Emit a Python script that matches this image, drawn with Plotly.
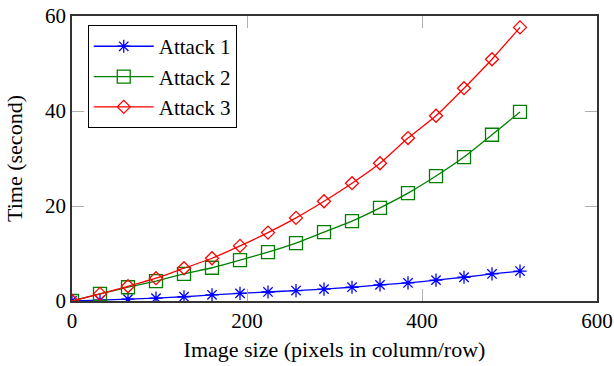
import plotly.graph_objects as go

sizes = [0, 32, 64, 96, 128, 160, 192, 224, 256, 288, 320, 352, 384, 416, 448, 480, 512]
attack1 = [0, 0.2, 0.4, 0.6, 0.9, 1.3, 1.6, 1.9, 2.2, 2.5, 2.9, 3.4, 3.8, 4.4, 5.0, 5.7, 6.3]
attack2 = [0, 1.5, 2.9, 4.2, 5.7, 7.0, 8.6, 10.3, 12.2, 14.5, 16.8, 19.6, 22.7, 26.3, 30.3, 35.0, 39.8]
attack3 = [0, 1.5, 3.1, 4.8, 6.9, 9.0, 11.6, 14.4, 17.5, 21.0, 24.8, 29.0, 34.3, 39.0, 44.8, 50.9, 57.6]
names = ["Attack 1", "Attack 2", "Attack 3"]
xticks = [0, 200, 400, 600]
yticks = [0, 20, 40, 60]

FONT = "Liberation Serif"
fig = go.Figure()
specs = [
    (attack1, "#0000ff", "asterisk-open", 11),
    (attack2, "#008000", "square-open", 13),
    (attack3, "#ff0000", "diamond-open", 10),
]
for name, (ys, col, sym, sz) in zip(names, specs):
    fig.add_trace(go.Scatter(
        x=sizes, y=ys, name=name, legendgroup=name, mode="lines+markers",
        line=dict(color=col, width=1.3, shape="spline", smoothing=0.5),
        marker=dict(symbol=sym, size=sz, color=col, line=dict(color=col, width=1.3)),
    ))

axis_common = dict(
    showline=True, linecolor="#333333", linewidth=1.5, mirror="ticks",
    ticks="inside", ticklen=12, tickcolor="#b0b0b0", tickwidth=1,
    showgrid=False, zeroline=False, automargin=False,
    tickfont=dict(family=FONT, size=21, color="black"),
)
fig.update_xaxes(range=[0, 600], tickvals=xticks, **axis_common,
                 title=dict(text="Image size (pixels in column/row)",
                            font=dict(family=FONT, size=22, color="black"), standoff=10))
fig.update_yaxes(range=[0, 60], tickvals=yticks, **axis_common,
                 title=dict(text="Time (second)",
                            font=dict(family=FONT, size=22, color="black"), standoff=16))

fig.update_layout(
    width=614, height=366,
    margin=dict(l=72, r=17, t=16, b=65),
    paper_bgcolor="white", plot_bgcolor="white",
    font=dict(family=FONT, size=21, color="black"),
    legend=dict(x=0.03, y=0.968, xanchor="left", yanchor="top",
                bordercolor="black", borderwidth=1, bgcolor="white",
                font=dict(family=FONT, size=21, color="black"),
                itemwidth=60, tracegroupgap=0),
    showlegend=True,
)
fig.write_html("out.html", config={"displayModeBar": False},
               post_script="document.body.style.margin='0px';")
